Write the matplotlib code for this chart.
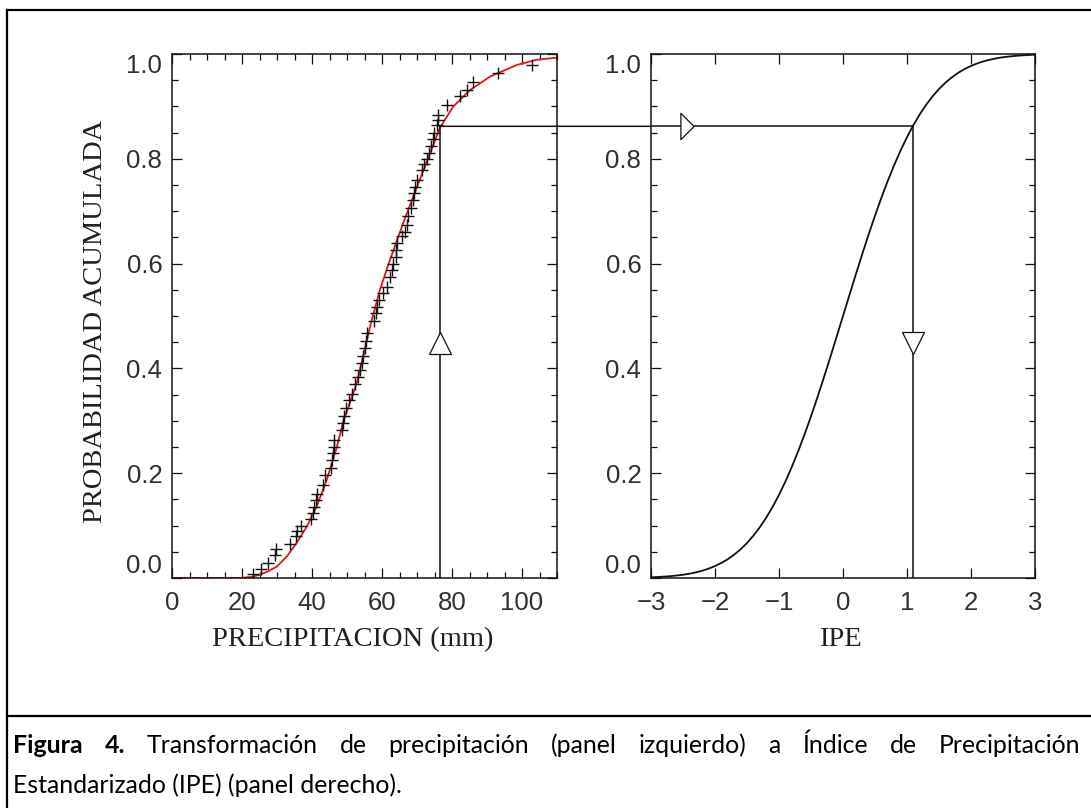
import matplotlib
matplotlib.use("Agg")
import matplotlib.pyplot as plt
from matplotlib.patches import ConnectionPatch
from matplotlib.lines import Line2D
from matplotlib.path import Path

# ---------------- data ----------------
obs_precip = [23.2, 25.3, 27.5, 29.4, 29.8, 33.7, 35.3, 35.8, 36.8, 39.6,
              40.2, 40.6, 41.0, 41.4, 43.0, 43.7, 45.3, 45.8, 46.0, 46.2,
              46.3, 48.5, 48.9, 49.2, 49.6, 50.6, 51.3, 52.3, 53.2, 53.7,
              54.2, 54.6, 55.0, 55.3, 55.6, 57.7, 58.2, 58.7, 59.1, 60.3,
              61.3, 62.3, 62.8, 63.2, 64.0, 64.1, 64.2, 65.6, 66.6, 67.0,
              67.5, 68.2, 68.8, 69.2, 69.5, 69.9, 71.3, 72.0, 72.8, 73.4,
              73.9, 74.5, 74.9, 75.6, 75.9, 76.1, 78.5, 82.3, 84.2, 86.1,
              93.2, 102.8]
obs_prob = [0.008, 0.018, 0.029, 0.044, 0.055, 0.065, 0.080, 0.090, 0.100, 0.112,
            0.124, 0.136, 0.148, 0.160, 0.177, 0.197, 0.210, 0.225, 0.238, 0.250,
            0.263, 0.282, 0.296, 0.310, 0.325, 0.340, 0.352, 0.370, 0.384, 0.397,
            0.410, 0.424, 0.438, 0.452, 0.467, 0.490, 0.505, 0.518, 0.530, 0.544,
            0.556, 0.575, 0.588, 0.600, 0.613, 0.626, 0.639, 0.652, 0.661, 0.674,
            0.690, 0.706, 0.721, 0.734, 0.747, 0.760, 0.779, 0.790, 0.800, 0.812,
            0.825, 0.838, 0.850, 0.865, 0.875, 0.884, 0.903, 0.919, 0.931, 0.947,
            0.963, 0.979]

fit_precip = [0, 19.5, 22.5, 25, 27.5, 30, 32.8, 35.6, 38.5, 41.3, 44.2, 47.1,
              49, 52.8, 56.6, 59.4, 61.8, 64.7, 66.1, 69.9, 73.7, 76.6, 80.4,
              85.1, 90.9, 98.5, 104.2, 110]
fit_prob = [0, 0, 0.002, 0.006, 0.013, 0.022, 0.041, 0.067, 0.098, 0.136, 0.187,
            0.250, 0.300, 0.372, 0.480, 0.550, 0.598, 0.652, 0.678, 0.745, 0.810,
            0.860, 0.900, 0.931, 0.957, 0.979, 0.989, 0.993]

ipe = [-3.0, -2.9, -2.8, -2.7, -2.6, -2.5, -2.4, -2.3, -2.2, -2.1,
       -2.0, -1.9, -1.8, -1.7, -1.6, -1.5, -1.4, -1.3, -1.2, -1.1,
       -1.0, -0.9, -0.8, -0.7, -0.6, -0.5, -0.4, -0.3, -0.2, -0.1,
       0.0, 0.1, 0.2, 0.3, 0.4, 0.5, 0.6, 0.7, 0.8, 0.9,
       1.0, 1.1, 1.2, 1.3, 1.4, 1.5, 1.6, 1.7, 1.8, 1.9,
       2.0, 2.1, 2.2, 2.3, 2.4, 2.5, 2.6, 2.7, 2.8, 2.9, 3.0]
ipe_prob = [0.0013, 0.0019, 0.0026, 0.0035, 0.0047, 0.0062, 0.0082, 0.0107, 0.0139, 0.0179,
            0.0228, 0.0287, 0.0359, 0.0446, 0.0548, 0.0668, 0.0808, 0.0968, 0.1151, 0.1357,
            0.1587, 0.1841, 0.2119, 0.2420, 0.2743, 0.3085, 0.3446, 0.3821, 0.4207, 0.4602,
            0.5000, 0.5398, 0.5793, 0.6179, 0.6554, 0.6915, 0.7257, 0.7580, 0.7881, 0.8159,
            0.8413, 0.8643, 0.8849, 0.9032, 0.9192, 0.9332, 0.9452, 0.9554, 0.9641, 0.9713,
            0.9772, 0.9821, 0.9861, 0.9893, 0.9918, 0.9938, 0.9953, 0.9965, 0.9974, 0.9981,
            0.9987]

precip_ticks = [0, 20, 40, 60, 80, 100]
prob_ticks = [0.0, 0.2, 0.4, 0.6, 0.8, 1.0]
ipe_ticks = [-3, -2, -1, 0, 1, 2, 3]

sample_precip = 76.5
sample_prob = 0.862
sample_ipe = 1.09
arrow_prob = 0.449
arrow_ipe_h = -2.44

caption_line1 = [("Figura", True), ("4.", True), ("Transformación", False),
                 ("de", False), ("precipitación", False), ("(panel", False),
                 ("izquierdo)", False), ("a", False), ("Índice", False),
                 ("de", False), ("Precipitación", False)]
caption_line2 = "Estandarizado (IPE) (panel derecho)."

# ---------------- figure ----------------
W, H, DPI = 1091, 808, 100
fig = plt.figure(figsize=(W / DPI, H / DPI), dpi=DPI)
fig.patch.set_facecolor("white")


def fx(px):
    return px / W


def fy(py):
    return 1 - py / H


TICK_FONT = "Liberation Sans"
LAB_FONT = "Liberation Serif"
TICK_COL = "#303030"

ax1 = fig.add_axes([fx(172), fy(578), (557 - 172) / W, (578 - 54) / H])
ax2 = fig.add_axes([fx(651), fy(578), (1035 - 651) / W, (578 - 54) / H])

for ax in (ax1, ax2):
    ax.set_ylim(0, 1)
    for s in ax.spines.values():
        s.set_linewidth(1.1)
        s.set_color("#111111")
    ax.tick_params(which="both", direction="in", top=True, right=True,
                   color="#111111", width=0.9)
    ax.tick_params(which="major", length=7, pad=7)
    ax.tick_params(which="minor", length=4.2)
    ax.tick_params(axis="x", which="major", pad=9)
    ax.set_yticks(prob_ticks, [f"{v:.1f}" for v in prob_ticks])
    ax.set_yticks([i * 0.05 for i in range(21)], minor=True)

# left panel
ax1.set_xlim(0, 110)
ax1.set_xticks(precip_ticks, [str(v) for v in precip_ticks])
ax1.set_xticks(list(range(0, 111, 5)), minor=True)
ax1.plot(fit_precip, fit_prob, color="#e3141b", lw=1.3, zorder=2)
ax1.plot(obs_precip, obs_prob, linestyle="none", marker="+", color="#111111",
         markersize=9, mew=1.0, zorder=3)
ax1.plot([sample_precip, sample_precip], [0, sample_prob], color="#111111", lw=1.1)
ax1.plot([sample_precip], [arrow_prob], marker="^", markersize=16,
         markerfacecolor="white", markeredgecolor="#111111", mew=0.9, zorder=4)

# right panel
ax2.set_xlim(-3, 3)
ax2.set_xticks(ipe_ticks, [str(v).replace("-", "\u2212") for v in ipe_ticks])
ax2.plot(ipe, ipe_prob, color="#111111", lw=1.3)
ax2.plot([sample_ipe, sample_ipe], [0, sample_prob], color="#111111", lw=1.1)
ax2.plot([sample_ipe], [arrow_prob], marker="v", markersize=16,
         markerfacecolor="white", markeredgecolor="#111111", mew=0.9, zorder=4)
ax2.plot([-3, sample_ipe], [sample_prob, sample_prob], color="#111111", lw=1.1)
tri_right = Path([(-0.5, -1), (0.5, 0), (-0.5, 1), (-0.5, -1)],
                 [Path.MOVETO, Path.LINETO, Path.LINETO, Path.CLOSEPOLY])
ax2.plot([arrow_ipe_h], [sample_prob], marker=tri_right, markersize=19,
         markerfacecolor="white", markeredgecolor="#111111", mew=0.9, zorder=4)

# connector across the gap
con = ConnectionPatch(xyA=(sample_precip, sample_prob), coordsA=ax1.transData,
                      xyB=(-3, sample_prob), coordsB=ax2.transData,
                      color="#111111", lw=1.1)
fig.add_artist(con)

for ax in (ax1, ax2):
    for lab in ax.get_xticklabels() + ax.get_yticklabels():
        lab.set_fontfamily(TICK_FONT)
        lab.set_fontsize(18.5)
        lab.set_color(TICK_COL)
    ylabs = ax.get_yticklabels()
    ylabs[0].set_va("bottom")
    ylabs[-1].set_va("top")

ax1.set_ylabel("PROBABILIDAD ACUMULADA", fontfamily=LAB_FONT, fontsize=20.5,
               color="#202020", va="center", ha="center")
ax1.yaxis.set_label_coords((96 - 172) / 385, 0.5 - (321 - 316) / 524)
ax1.set_xlabel("PRECIPITACION (mm)", fontfamily=LAB_FONT, fontsize=20.5,
               color="#202020", va="center", ha="center")
ax1.xaxis.set_label_coords((353 - 172) / 385, (578 - 640) / 524)
ax2.set_xlabel("IPE", fontfamily=LAB_FONT, fontsize=20.5,
               color="#202020", va="center", ha="center")
ax2.xaxis.set_label_coords((840 - 651) / 384, (578 - 640) / 524)

# frame lines of the figure box
for xs, ys in [((7, W), (10, 10)), ((7, 7), (10, H)), ((7, W), (716, 716))]:
    fig.add_artist(Line2D([fx(xs[0]), fx(xs[1])], [fy(ys[0]), fy(ys[1])],
                          transform=fig.transFigure, color="black", lw=1.6))

# caption
CAP_FONT = "Lato"
fig.canvas.draw()
renderer = fig.canvas.get_renderer()
t2 = fig.text(fx(13), fy(793), caption_line2, fontfamily=CAP_FONT, fontsize=16,
              ha="left", va="baseline", color="black")
w2 = t2.get_window_extent(renderer).width
cap_size = 16 * 392 / w2
t2.set_fontsize(cap_size)

words = []
for w, bold in caption_line1:
    t = fig.text(0, fy(753), w, fontfamily=CAP_FONT, fontsize=cap_size,
                 fontweight="bold" if bold else "normal",
                 ha="left", va="baseline", color="black")
    words.append(t)
widths = [t.get_window_extent(renderer).width for t in words]
x0, x1 = 13, 1080
gap = (x1 - x0 - sum(widths)) / (len(words) - 1)
x = x0
for t, wd in zip(words, widths):
    t.set_x(fx(x))
    x += wd + gap

fig.savefig("out.png", dpi=DPI)
